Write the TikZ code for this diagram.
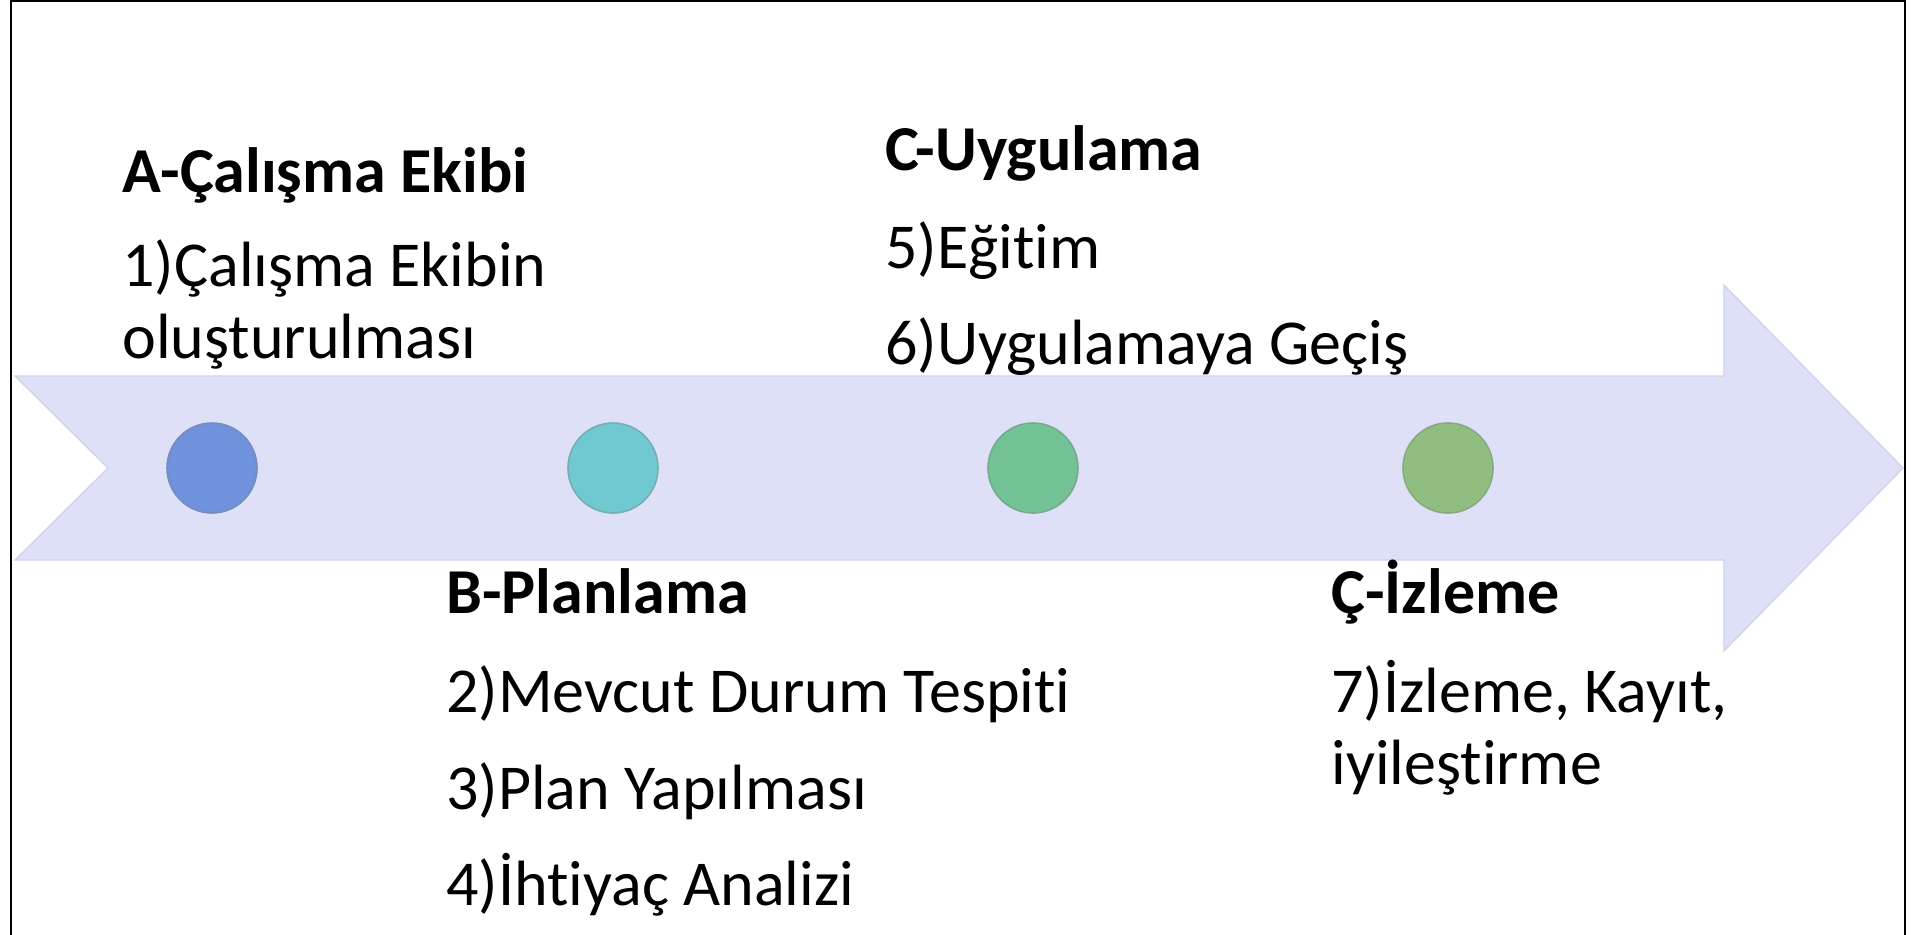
\documentclass[tikz,border=0pt]{standalone}
\usepackage{fontspec}
\setmainfont{Carlito}[Ligatures={NoCommon,NoRare,NoContextual}]
\definecolor{band}{RGB}{221,224,247}
\definecolor{bandedge}{RGB}{205,209,236}
\definecolor{dotA}{RGB}{112,146,220}
\definecolor{dotB}{RGB}{112,200,208}
\definecolor{dotC}{RGB}{114,194,150}
\definecolor{dotD}{RGB}{144,190,128}
\tikzset{
  dot/.style={circle, minimum size=45pt, inner sep=0pt, draw=#1!65!gray, fill=#1, line width=0.8pt},
  headtext/.style={anchor=base west, inner sep=0pt, font=\fontsize{32}{39}\selectfont\bfseries},
  itemtext/.style={anchor=base west, inner sep=0pt, font=\fontsize{32}{39}\selectfont},
}
\begin{document}
\begin{tikzpicture}[x=0.5pt, y=-0.5pt]
        \useasboundingbox (0,0) rectangle (1923,934);
        % Frame
        \draw[line width=1pt] (11,960) -- (11,1) -- (1905,1) -- (1905,960);

        % Arrow
        \draw[fill=band, draw=bandedge, line width=0.6pt]
          (15,376) -- (1724,376) -- (1724,285) -- (1903,468) -- (1724,651)
          -- (1724,560) -- (15,560) -- (108,468) -- cycle;

        % Dots
        \node (d1) [dot=dotA] at (212,468) {};
        \node (d2) [dot=dotB] at (613,468) {};
        \node (d3) [dot=dotC] at (1033,468) {};
        \node (d4) [dot=dotD] at (1448,468) {};

        % Texts
        \node (hA) [headtext] at (122,192) {A-Çalışma Ekibi};
        \node (tA1) [itemtext] at (122,286) {1)Çalışma Ekibin};
        \node (tA2) [itemtext] at (122,358) {oluşturulması};

        \node (hB) [headtext] at (446,613) {B-Planlama};
        \node (tB1) [itemtext] at (446,712) {2)Mevcut Durum Tespiti};
        \node (tB2) [itemtext] at (446,809) {3)Plan Yapılması};
        \node (tB3) [itemtext] at (446,905) {4)İhtiyaç Analizi};

        \node (hC) [headtext] at (885,170) {C-Uygulama};
        \node (tC1) [itemtext] at (885,268) {5)Eğitim};
        \node (tC2) [itemtext] at (885,364) {6)Uygulamaya Geçiş};

        \node (hD) [headtext] at (1331,613) {Ç-İzleme};
        \node (tD1) [itemtext] at (1331,712) {7)İzleme, Kayıt,};
        \node (tD2) [itemtext] at (1331,784) {iyileştirme};
\end{tikzpicture}
\end{document}
